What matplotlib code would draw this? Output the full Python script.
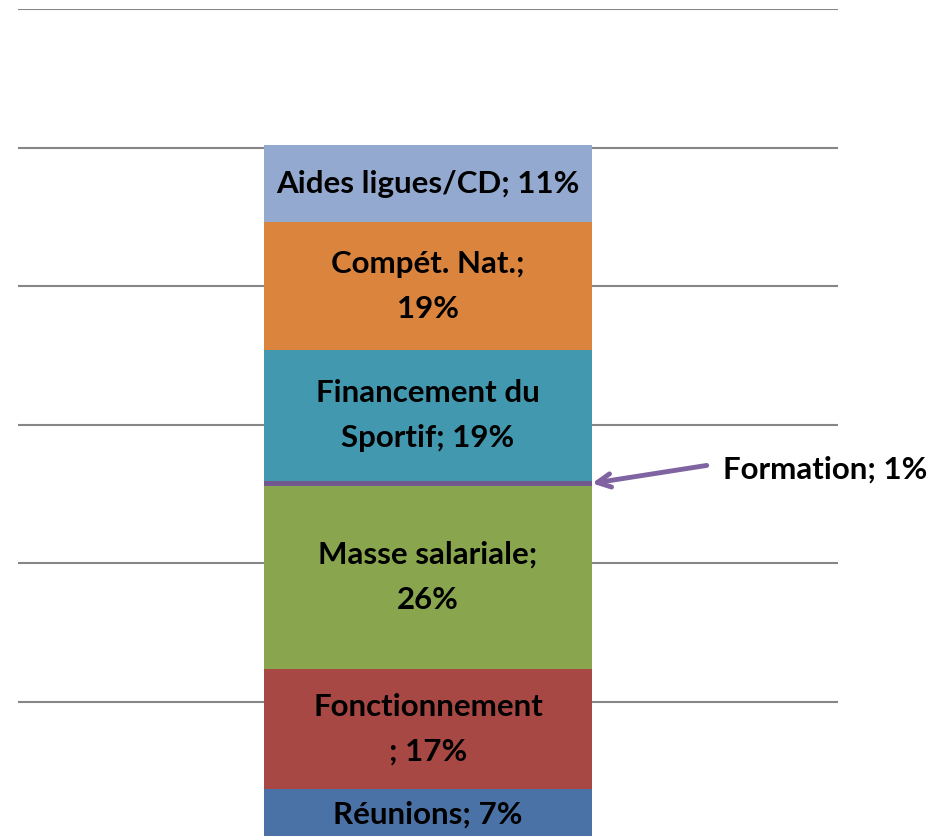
import numpy as np
import matplotlib.pyplot as plt

# stacked single bar, bottom to top
categories = ["Réunions", "Fonctionnement", "Masse salariale", "Formation",
              "Financement du Sportif", "Compét. Nat.", "Aides ligues/CD"]
shares = [7.4, 17.3, 26.5, 0.7, 18.9, 18.4, 11.2]
labels = ["Réunions; 7%", "Fonctionnement\n; 17%", "Masse salariale;\n26%",
          "Formation; 1%", "Financement du\nSportif; 19%", "Compét. Nat.;\n19%",
          "Aides ligues/CD; 11%"]
colors = ["#4A72A6", "#A84845", "#89A54E", "#71588F", "#4298AF", "#DB843D", "#93A9CF"]

plt.rcParams['font.family'] = ['Lato', 'DejaVu Sans']

fig = plt.figure(figsize=(9.47, 8.36), dpi=100)
ax = fig.add_axes([18 / 947, 1 - 840.6 / 836, 820 / 947, 831.6 / 836])

values = np.array(shares) / 100
bottoms = np.concatenate([[0], np.cumsum(values)[:-1]])
ax.bar(0, values, bottom=bottoms, width=0.4, color=colors, zorder=2)

for i, (v, b, lab) in enumerate(zip(values, bottoms, labels)):
    if categories[i] == "Formation":
        ax.annotate(lab, xy=(0.2, b + v / 2), xytext=(0.36, 0.535),
                    ha='left', va='center', fontsize=22.5, fontweight='bold',
                    arrowprops=dict(arrowstyle='->', color='#8064A2', lw=3.5,
                                    shrinkA=10, shrinkB=0, mutation_scale=24,
                                    relpos=(0, 0.75)))
    else:
        ax.text(0, b + v / 2, lab, ha='center', va='center', fontsize=22.5,
                fontweight='bold', linespacing=1.75, zorder=3)

ax.set_xlim(-0.5, 0.5)
ax.set_ylim(0, 1.2)
ax.set_yticks(np.arange(0, 1.21, 0.2))
ax.yaxis.grid(True, color='#868686', lw=1.5, zorder=0)
ax.set_axisbelow(True)
ax.tick_params(left=False, bottom=False, labelleft=False, labelbottom=False)
for s in ax.spines.values():
    s.set_visible(False)

fig.savefig('out.png', dpi=100)
